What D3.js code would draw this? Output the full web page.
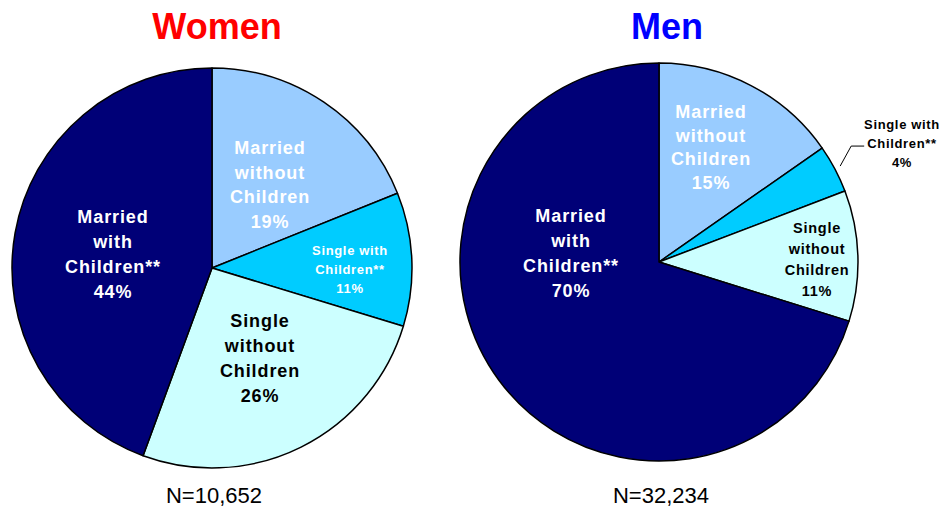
<!DOCTYPE html>
<html>
<head>
<meta charset="utf-8">
<script src="https://cdn.jsdelivr.net/npm/d3@7"></script>
<style>
  html, body { margin: 0; padding: 0; background: #fff; }
  text { font-family: "Liberation Sans", Arial, sans-serif; }
</style>
</head>
<body>
<div id="chart"></div>
<script>
const categories = ["Married without Children", "Single with Children**", "Single without Children", "Married with Children**"];
const labelLines = [["Married", "without", "Children"], ["Single with", "Children**"], ["Single", "without", "Children"], ["Married", "with", "Children**"]];
const womenValues = [18.9, 10.8, 25.9, 44.4];
const menValues = [15.3, 3.9, 10.6, 70.2];
const titles = ["Women", "Men"];
const sampleSizes = ["N=10,652", "N=32,234"];

const colors = ["#99CCFF", "#00CCFF", "#CCFFFF", "#000077"];

const width = 939, height = 510;

const svg = d3.select("#chart").append("svg")
  .attr("width", width).attr("height", height)
  .attr("viewBox", `0 0 ${width} ${height}`);

// layout per pie: centre, radius, title colour and where each label sits
const pies = [
  {
    values: womenValues, cx: 212, cy: 268, r: 200, title: titles[0], titleColor: "#FF0000", titleX: 217, n: sampleSizes[0], nX: 214,
    labels: [
      { dx: 58, dy: -114, size: 18, lh: 24.7, fill: "#fff" },
      { dx: 138, dy: -13, size: 13, lh: 19, fill: "#fff" },
      { dx: 48, dy: 59, size: 18, lh: 25, fill: "#000" },
      { dx: -99, dy: -45, size: 18, lh: 25, fill: "#fff" }
    ]
  },
  {
    values: menValues, cx: 659, cy: 262, r: 199, title: titles[1], titleColor: "#0000FF", titleX: 667, n: sampleSizes[1], nX: 661,
    labels: [
      { dx: 52, dy: -144, size: 18, lh: 23.7, fill: "#fff" },
      { dx: 243, dy: -133, size: 13, lh: 19, fill: "#000", leader: true },
      { dx: 158, dy: -29, size: 14.5, lh: 21, fill: "#000" },
      { dx: -88, dy: -40, size: 18, lh: 25, fill: "#fff" }
    ]
  }
];

const pie = d3.pie().sort(null).value(d => d);

pies.forEach(p => {
  const arcs = pie(p.values);
  const arc = d3.arc().innerRadius(0).outerRadius(p.r);
  const g = svg.append("g").attr("transform", `translate(${p.cx},${p.cy})`);

  g.selectAll("path.slice")
    .data(arcs)
    .enter()
    .append("path")
    .attr("class", "slice")
    .attr("d", arc)
    .attr("fill", (d, i) => colors[i])
    .attr("stroke", "#000")
    .attr("stroke-width", 1.5)
    .attr("stroke-linejoin", "round");

  arcs.forEach((d, i) => {
    const lab = p.labels[i];
    const lines = labelLines[i].concat([Math.round(d.value) + "%"]);
    const t = g.append("text")
      .attr("text-anchor", "middle")
      .attr("font-weight", "bold")
      .attr("font-size", lab.size)
      .attr("letter-spacing", lab.size * 0.05)
      .attr("fill", lab.fill);
    lines.forEach((ln, j) => {
      t.append("tspan").attr("x", lab.dx).attr("y", lab.dy + j * lab.lh).text(ln);
    });

    if (lab.leader) {
      const mid = (d.startAngle + d.endAngle) / 2;
      const r0 = p.r + 6;
      const x0 = Math.sin(mid) * r0, y0 = -Math.cos(mid) * r0;
      g.append("polyline")
        .attr("points", [[x0, y0], [x0 + 11, y0 - 20], [x0 + 24, y0 - 20]].map(q => q.join(",")).join(" "))
        .attr("fill", "none")
        .attr("stroke", "#000")
        .attr("stroke-width", 1);
    }
  });

  svg.append("text")
    .attr("x", p.titleX).attr("y", 39)
    .attr("text-anchor", "middle")
    .attr("font-weight", "bold")
    .attr("font-size", 36)
    .attr("fill", p.titleColor)
    .text(p.title);

  svg.append("text")
    .attr("x", p.nX).attr("y", 503)
    .attr("text-anchor", "middle")
    .attr("font-size", 22)
    .attr("fill", "#000")
    .text(p.n);
});
</script>
</body>
</html>
